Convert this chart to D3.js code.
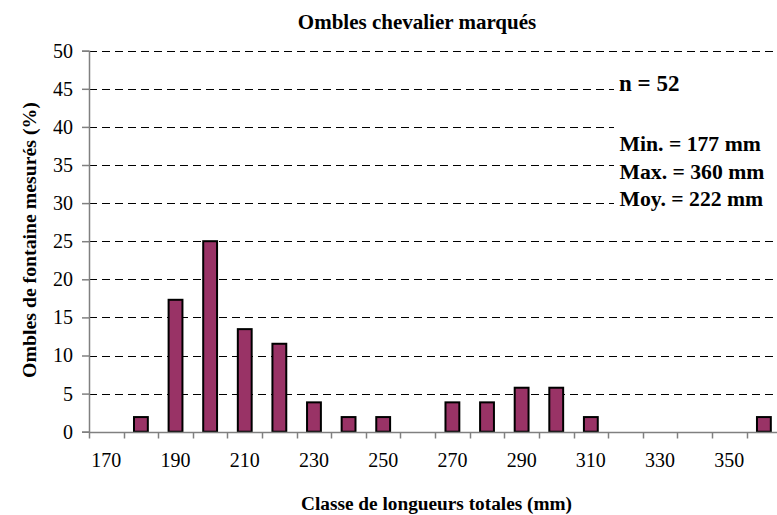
<!DOCTYPE html>
<html>
<head>
<meta charset="utf-8">
<script src="https://cdn.jsdelivr.net/npm/d3@7"></script>
</head>
<body style="margin:0">
<svg id="chart" width="777" height="515"></svg>
<script>
// Length classes (mm) and share of measured fish in each class (%), n = 52
const classes = [170, 180, 190, 200, 210, 220, 230, 240, 250, 260,
                 270, 280, 290, 300, 310, 320, 330, 340, 350, 360];
const percents = [0, 1.92, 17.31, 25, 13.46, 11.54, 3.85, 1.92, 1.92, 0,
                  3.85, 3.85, 5.77, 5.77, 1.92, 0, 0, 0, 0, 1.92];
const xTickLabels = [170, 190, 210, 230, 250, 270, 290, 310, 330, 350];
const yTicks = [0, 5, 10, 15, 20, 25, 30, 35, 40, 45, 50];
const statLines = ["Min. = 177 mm", "Max. = 360 mm", "Moy. = 222 mm"];
const countLabel = "n = 52";

const FONT = "Liberation Serif";

const svg = d3.select("#chart");
const plotLeft = 89, plotTop = 50.7, plotBottom = 431.7;
const step = 34.61;

const x = d3.scaleBand()
  .domain(classes)
  .range([plotLeft, plotLeft + step * classes.length])
  .paddingInner(0.6)
  .paddingOuter(0.3);

const y = d3.scaleLinear().domain([0, 50]).range([plotBottom, plotTop]);

// Every label goes through this helper so they share the serif face
function label(sel) {
  return sel.attr("font-family", FONT).style("font-family", FONT).attr("fill", "#000");
}

// Dashed horizontal gridlines
svg.append("g")
  .selectAll("line")
  .data(yTicks.filter(v => v > 0))
  .join("line")
  .attr("x1", plotLeft)
  .attr("x2", 777)
  .attr("y1", d => Math.round(y(d)) + 0.5)
  .attr("y2", d => Math.round(y(d)) + 0.5)
  .attr("stroke", "#000")
  .attr("stroke-width", 1)
  .attr("stroke-dasharray", "8,5");

// Bars
svg.append("g")
  .selectAll("rect")
  .data(classes.map((c, i) => ({ c, v: percents[i] })).filter(d => d.v > 0))
  .join("rect")
  .attr("x", d => x(d.c))
  .attr("width", x.bandwidth())
  .attr("y", d => y(d.v))
  .attr("height", d => y(0) - y(d.v))
  .attr("fill", "#993366")
  .attr("stroke", "#000")
  .attr("stroke-width", 2);

// X axis: ticks sit on band boundaries, labels on every other band
const xAxisG = svg.append("g");
const xBase = Math.round(plotBottom) + 0.5;
xAxisG.append("line")
  .attr("x1", plotLeft).attr("x2", 777)
  .attr("y1", xBase).attr("y2", xBase)
  .attr("stroke", "#808080").attr("stroke-width", 1.5);
xAxisG.selectAll("line.tick")
  .data(classes)
  .join("line")
  .attr("class", "tick")
  .attr("x1", d => Math.round(x(d) - x.step() * 0.3) + 0.5)
  .attr("x2", d => Math.round(x(d) - x.step() * 0.3) + 0.5)
  .attr("y1", xBase).attr("y2", xBase + 6)
  .attr("stroke", "#808080").attr("stroke-width", 1.5);
xAxisG.selectAll("text")
  .data(xTickLabels)
  .join("text")
  .attr("x", d => x(d) + x.bandwidth() / 2)
  .attr("y", 467)
  .attr("text-anchor", "middle")
  .attr("font-size", 20)
  .call(label)
  .text(d => d);

// Y axis
const yAxis = d3.axisLeft(y).tickValues(yTicks).tickSize(7).tickPadding(9);
const yAxisG = svg.append("g")
  .attr("transform", `translate(${plotLeft},0)`)
  .call(yAxis)
  .attr("font-family", FONT)
  .attr("font-size", 20);
yAxisG.select(".domain").attr("stroke", "#808080").attr("stroke-width", 1.5);
yAxisG.selectAll(".tick line").attr("stroke", "#808080").attr("stroke-width", 1.5);
yAxisG.selectAll(".tick text")
  .attr("font-size", 20)
  .call(label);

// Statistics box (white background hides the gridlines behind it)
svg.append("rect")
  .attr("x", 614).attr("y", 64)
  .attr("width", 163).attr("height", 148)
  .attr("fill", "#fff");

svg.append("text")
  .attr("x", 619).attr("y", 91)
  .attr("font-size", 23).attr("font-weight", "bold")
  .call(label)
  .text(countLabel);

svg.append("g")
  .selectAll("text")
  .data(statLines)
  .join("text")
  .attr("x", 619.5)
  .attr("y", (d, i) => 151 + i * 27.5)
  .attr("font-size", 21.7).attr("font-weight", "bold")
  .call(label)
  .text(d => d);

// Titles
svg.append("text")
  .attr("x", 417).attr("y", 28.5)
  .attr("text-anchor", "middle")
  .attr("font-size", 21).attr("font-weight", "bold")
  .call(label)
  .text("Ombles chevalier marqués");

svg.append("text")
  .attr("x", 436.5).attr("y", 510)
  .attr("text-anchor", "middle")
  .attr("font-size", 19.3).attr("font-weight", "bold")
  .call(label)
  .text("Classe de longueurs totales (mm)");

svg.append("text")
  .attr("transform", "translate(35.5,240) rotate(-90)")
  .attr("text-anchor", "middle")
  .attr("font-size", 19.8).attr("font-weight", "bold")
  .call(label)
  .text("Ombles de fontaine mesurés (%)");
</script>
</body>
</html>
